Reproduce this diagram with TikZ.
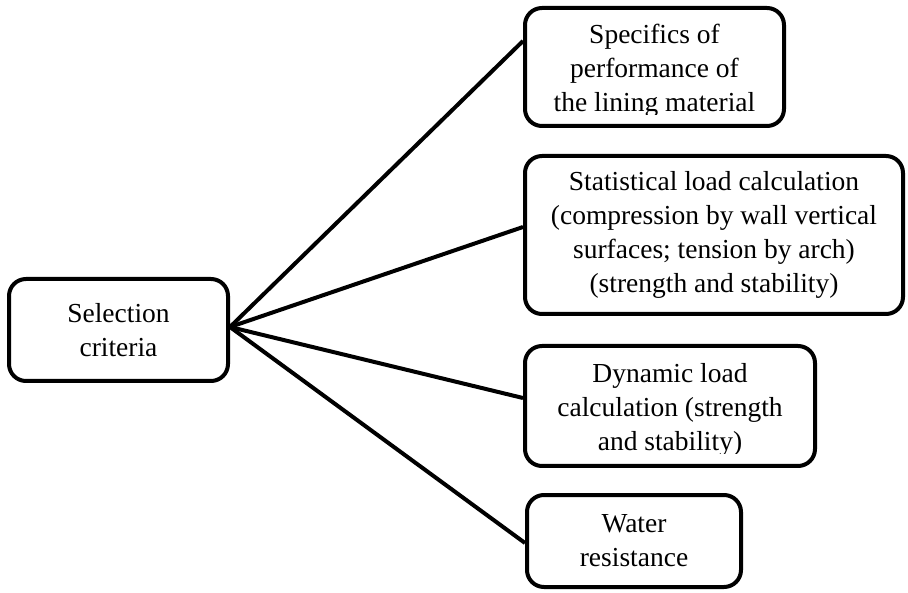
\documentclass[tikz,border=0pt]{standalone}
\usepackage{fontspec}
\setmainfont{Liberation Serif}
\usepackage{tikz}
\usetikzlibrary{positioning}

\tikzset{
  crit/.style={draw, line width=4pt, rounded corners=17pt, align=center,
    inner sep=0pt, font=\fontsize{27.5}{34}\selectfont},
  crittext/.style={align=center, inner sep=0pt, font=\fontsize{27.5}{34}\selectfont},
  link/.style={line width=4pt},
}

\begin{document}
\begin{tikzpicture}[x=1pt, y=-1pt]
    \useasboundingbox (0, 0) rectangle (908, 593);
    \node[crit, minimum width=219pt, minimum height=102pt] (sel) at (118.5, 330) {Selection\\criteria};
    \node[crit, minimum width=259pt, minimum height=118pt] (spec) at (654.5, 67) {};
    \node[crit, minimum width=378pt, minimum height=158pt] (stat) at (714, 235)
      {Statistical load calculation\\(compression by wall vertical\\surfaces; tension by arch)\\(strength and stability)};
    \node[crit, minimum width=290pt, minimum height=120pt] (dyn) at (670, 406) {};
    \node[crit, minimum width=214pt, minimum height=92pt] (water) at (634, 541) {Water\\resistance};
    \begin{scope}
      \clip (spec.north west) rectangle ([yshift=13pt]spec.south east);
      \node[crittext] (spectext) at ([yshift=-4pt]spec.center) {Specifics of\\performance of\\the lining material};
    \end{scope}
    \begin{scope}
      \clip (dyn.north west) rectangle ([yshift=14pt]dyn.south east);
      \node[crittext] (dyntext) at ([yshift=-4pt]dyn.center) {Dynamic load\\calculation (strength\\and stability)};
    \end{scope}
    \draw[link] ([yshift=3pt]sel.east) -- ([yshift=26pt]spec.west);
    \draw[link] ([yshift=3pt]sel.east) -- ([yshift=8pt]stat.west);
    \draw[link] ([yshift=3pt]sel.east) -- ([yshift=8pt]dyn.west);
    \draw[link] ([yshift=3pt]sel.east) -- ([yshift=-2pt]water.west);
  \end{tikzpicture}
\end{document}
